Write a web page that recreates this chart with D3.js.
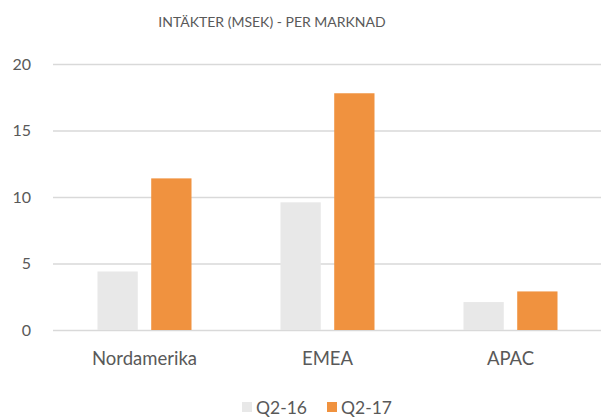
<!DOCTYPE html>
<html>
<head>
<meta charset="utf-8">
<script src="https://cdn.jsdelivr.net/npm/d3@7"></script>
<style>
  body { margin: 0; background: #fff; }
  text { font-family: Lato, "Open Sans", sans-serif; fill: #595959; }
</style>
</head>
<body>
<div id="chart"></div>
<script>
const markets = ['Nordamerika', 'EMEA', 'APAC'];
const seriesNames = ['Q2-16', 'Q2-17'];
const q216 = [4.4, 9.6, 2.1];
const q217 = [11.4, 17.8, 2.9];
const yTicks = [0, 5, 10, 15, 20];
const colors = ['#e8e8e8', '#f0923f'];

const width = 601;
const height = 417;
const margin = { top: 64, right: -1, bottom: 87, left: 53 };

const svg = d3.select('#chart').append('svg')
  .attr('width', width)
  .attr('height', height);

// title
svg.append('text')
  .attr('x', 272)
  .attr('y', 27)
  .style('text-anchor', 'middle')
  .style('font-size', '14px')
  .text('INTÄKTER (MSEK) - PER MARKNAD');

// one band per market, bars sit in the middle of it
const x = d3.scaleBand()
  .domain(markets)
  .range([margin.left, width - margin.right]);

const y = d3.scaleLinear()
  .domain([0, 20])
  .range([height - margin.bottom, margin.top]);

// gridlines + y labels
const yAxis = svg.append('g')
  .attr('transform', `translate(${margin.left},0)`)
  .call(d3.axisLeft(y).tickValues(yTicks).tickSize(-(width - margin.left - margin.right)).tickPadding(22));
yAxis.select('.domain').remove();
yAxis.selectAll('.tick line').attr('stroke', '#d9d9d9').attr('stroke-width', 1.3);
yAxis.selectAll('.tick text')
  .style('font-size', '16px')
  .style('font-family', 'Lato, sans-serif')
  .attr('fill', '#595959');

const groupWidth = 94;
const bx = d3.scaleBand()
  .domain(seriesNames)
  .range([0, groupWidth])
  .paddingInner(0.25);

const values = [q216, q217];
const barG = svg.append('g');
markets.forEach((m, i) => {
  const cx = x(m) + x.bandwidth() / 2;
  seriesNames.forEach((s, j) => {
    barG.append('rect')
      .attr('x', cx - groupWidth / 2 + bx(s))
      .attr('y', y(values[j][i]))
      .attr('width', bx.bandwidth())
      .attr('height', y(0) - y(values[j][i]))
      .attr('fill', colors[j]);
  });
});

// category labels
svg.append('g').selectAll('text')
  .data(markets)
  .join('text')
  .attr('x', d => x(d) + x.bandwidth() / 2)
  .attr('y', 365)
  .style('text-anchor', 'middle')
  .style('font-size', '18.5px')
  .text(d => d);

// legend
const legend = svg.append('g');
const legendX = [242, 327];
seriesNames.forEach((s, j) => {
  legend.append('rect')
    .attr('x', legendX[j])
    .attr('y', 402)
    .attr('width', 10)
    .attr('height', 10)
    .attr('fill', colors[j]);
  legend.append('text')
    .attr('x', legendX[j] + 14)
    .attr('y', 414)
    .style('font-size', '17.5px')
    .text(s);
});
</script>
</body>
</html>
